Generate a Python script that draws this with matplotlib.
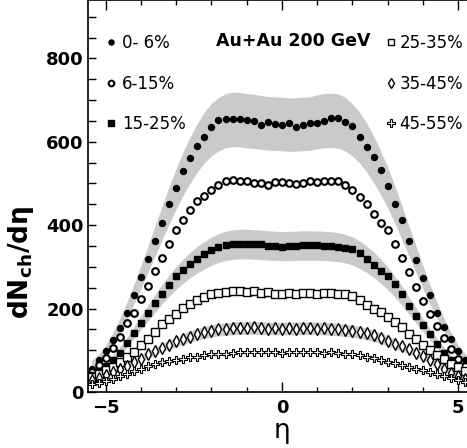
import numpy as np
import matplotlib
matplotlib.use("Agg")
import matplotlib.pyplot as plt
from matplotlib.ticker import MultipleLocator

plt.rcParams['font.family'] = ['DejaVu Sans']
plt.rcParams['mathtext.default'] = 'bf'

# pseudorapidity bins
eta = np.round(np.arange(-5.4, 5.41, 0.2), 1)

# dNch/deta per centrality bin
c0_6 = [56, 76, 98, 124, 154, 190, 232, 276, 318, 362, 405,
        450, 490, 530, 562, 590, 612, 636, 652, 655, 654, 655,
        653, 650, 640, 648, 642, 641, 646, 636, 641, 645, 646,
        650, 657, 656, 648, 638, 612, 588, 564, 532, 494, 450,
        412, 362, 316, 274, 232, 190, 155, 126, 98, 76, 56]
c6_15 = [48, 64, 82, 106, 132, 165, 190, 222, 254, 290, 322,
         356, 388, 412, 436, 458, 470, 484, 497, 505, 508, 506,
         505, 502, 500, 496, 503, 503, 502, 498, 502, 505, 503,
         505, 507, 505, 496, 484, 468, 452, 428, 406, 388, 356,
         322, 288, 252, 218, 188, 158, 130, 104, 80, 62, 46]
c15_25 = [40, 50, 62, 76, 94, 118, 142, 165, 190, 214, 236,
          256, 278, 292, 306, 318, 330, 340, 348, 353, 355, 355,
          355, 355, 354, 350, 350, 348, 351, 350, 352, 352, 352,
          350, 350, 348, 346, 342, 334, 320, 305, 290, 277, 258,
          234, 206, 182, 160, 138, 116, 94, 76, 62, 50, 40]
c25_35 = [36, 44, 52, 61, 72, 84, 96, 112, 128, 145, 162,
          176, 188, 202, 212, 220, 228, 234, 238, 240, 241, 241,
          240, 241, 238, 239, 236, 236, 238, 236, 237, 237, 236,
          238, 238, 236, 234, 230, 220, 209, 200, 191, 180, 168,
          155, 140, 126, 112, 100, 89, 78, 68, 59, 50, 42]
c35_45 = [28, 34, 41, 47, 55, 63, 72, 80, 90, 99, 106,
          113, 122, 128, 133, 140, 144, 147, 150, 152, 153, 154,
          153, 155, 153, 152, 153, 150, 153, 152, 153, 154, 152,
          153, 152, 150, 148, 146, 144, 141, 136, 129, 122, 116,
          110, 102, 94, 86, 76, 66, 55, 46, 38, 32, 28]
c45_55 = [18, 22, 26, 31, 38, 44, 50, 56, 62, 67, 71,
          74, 77, 80, 83, 85, 88, 90, 91, 92, 94, 95,
          95, 96, 95, 96, 95, 94, 95, 95, 96, 95, 95,
          94, 95, 93, 92, 90, 88, 85, 81, 77, 73, 69,
          64, 60, 56, 52, 48, 43, 38, 33, 29, 24, 20]

labels = ['0- 6%', '6-15%', '15-25%', '25-35%', '35-45%', '45-55%']
series = [c0_6, c6_15, c15_25, c25_35, c35_45, c45_55]
sys_frac = 0.10          # systematic error band (drawn for every other bin)
band_on = [True, False, True, False, True, False]

styles = [dict(marker='o', ms=4.3, mfc='k', mec='k'),
          dict(marker='o', ms=4.8, mfc='w', mec='k', mew=1.5),
          dict(marker='s', ms=4.8, mfc='k', mec='k'),
          dict(marker='s', ms=5.3, mfc='w', mec='k', mew=1.0),
          dict(marker='d', ms=5.8, mfc='w', mec='k', mew=1.0),
          dict(marker='P', ms=6.2, mfc='w', mec='k', mew=0.8)]

fig = plt.figure(figsize=(4.67, 4.48), dpi=100)
ax = fig.add_axes([0.1884, 0.125, 0.8306, 0.875])

handles = []
for y, lab, st, bnd in zip(series, labels, styles, band_on):
    y = np.array(y, dtype=float)
    if bnd:
        sm = np.convolve(np.pad(y, 2, mode='edge'), np.ones(5) / 5, mode='valid')
        ax.fill_between(eta, sm * (1 - sys_frac), sm * (1 + sys_frac),
                        color='#cacaca', lw=0, zorder=1)
    h, = ax.plot(eta, y, ls='none', zorder=3, label=lab, **st)
    handles.append(h)

ax.set_xlim(-5.5, 5.5)
ax.set_ylim(0, 940)
ax.xaxis.set_major_locator(MultipleLocator(5))
ax.xaxis.set_minor_locator(MultipleLocator(1))
ax.yaxis.set_major_locator(MultipleLocator(200))
ax.yaxis.set_minor_locator(MultipleLocator(50))
ax.tick_params(which='both', direction='in', top=True, right=True, width=1.0)
ax.tick_params(axis='x', which='major', length=7, pad=5)
ax.tick_params(axis='x', which='minor', length=3.5)
ax.tick_params(axis='y', which='both', length=6, pad=3)
for lab in ax.get_xticklabels() + ax.get_yticklabels():
    lab.set_fontweight('bold')
    lab.set_fontsize(13)
for sp in ax.spines.values():
    sp.set_linewidth(1.2)

ax.set_xlabel('η', fontsize=19, labelpad=1)
ax.set_ylabel('dN$_{ch}$/dη', fontsize=19, fontweight='bold')
ax.yaxis.set_label_coords(-0.135, 0.33)

leg_kw = dict(frameon=False, fontsize=12, borderpad=0, borderaxespad=0,
              handlelength=0.8, labelspacing=1.35, markerscale=0.85)
leg1 = ax.legend(handles=handles[:3], loc='upper left', bbox_to_anchor=(0.041, 0.913),
                 handletextpad=0.3, **leg_kw)
ax.add_artist(leg1)
ax.legend(handles=handles[3:], loc='upper right', bbox_to_anchor=(0.968, 0.913),
          handletextpad=0.1, **leg_kw)

ax.text(0.53, 0.895, 'Au+Au 200 GeV', transform=ax.transAxes, ha='center',
        va='center', fontsize=12.5, fontweight='bold')

fig.savefig('out.png', dpi=100)
